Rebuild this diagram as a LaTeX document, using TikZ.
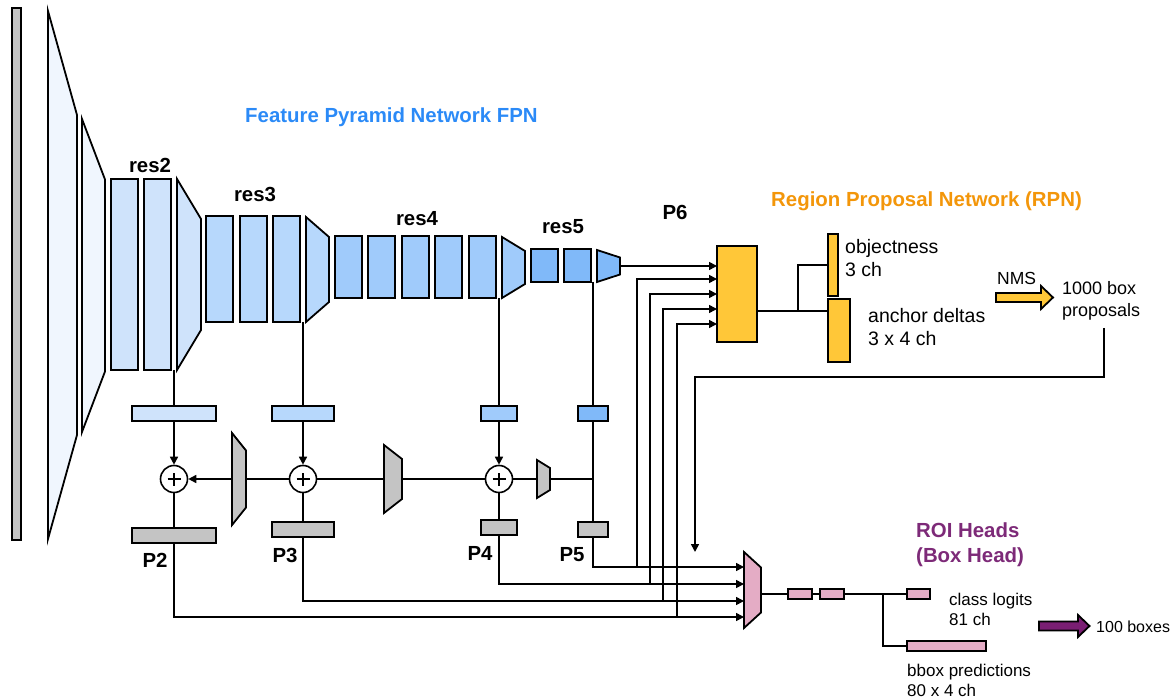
\documentclass[tikz,border=0pt]{standalone}
\usepackage{fontspec}
\setmainfont{Liberation Sans}
\usetikzlibrary{arrows.meta}
\definecolor{cstem}{RGB}{240,246,254}
\definecolor{cr2}{RGB}{207,227,251}
\definecolor{cr3}{RGB}{183,216,252}
\definecolor{cr4}{RGB}{160,203,251}
\definecolor{cr5}{RGB}{128,185,249}
\definecolor{cgray}{RGB}{196,196,196}
\definecolor{cyel}{RGB}{255,199,56}
\definecolor{cpink}{RGB}{228,172,197}
\definecolor{cpur}{RGB}{122,30,115}
\definecolor{tblue}{RGB}{43,138,247}
\definecolor{torange}{RGB}{243,150,10}
\definecolor{tpurple}{RGB}{125,42,120}
\tikzset{
  shp/.style={draw=black, line width=1.8pt},
  blk/.style={shp, rectangle, inner sep=0pt, outer sep=0pt},
  con/.style={draw=black, line width=1.6pt},
  arr/.style={con, -{Triangle[length=8pt,width=8pt]}},
  bl/.style={font=\fontsize{20.4}{24}\selectfont\bfseries, inner sep=0pt, anchor=base},
  lbl/.style={font=\fontsize{19.5}{22}\selectfont, inner sep=0pt, anchor=base west},
  slbl/.style={font=\fontsize{17}{20}\selectfont, inner sep=0pt, anchor=base west},
  plusnode/.style={circle, draw=black, line width=1.6pt, minimum size=27pt, inner sep=0pt, fill=white,
    path picture={\draw[line width=1.2pt] ([xshift=-6.5pt]path picture bounding box.center) -- ([xshift=6.5pt]path picture bounding box.center);
                  \draw[line width=1.2pt] ([yshift=-6.5pt]path picture bounding box.center) -- ([yshift=6.5pt]path picture bounding box.center);}}
}
% rectangle node from corners: name, x1, y1, x2, y2, fill
\newcommand\myrect[6]{%
  \pgfmathsetmacro\rbw{#4-#2}\pgfmathsetmacro\rbh{#5-#3}%
  \pgfmathsetmacro\rbx{(#2+#4)/2}\pgfmathsetmacro\rby{(#3+#5)/2}%
  \node[blk,fill=#6,minimum width=\rbw pt,minimum height=\rbh pt] (#1) at (\rbx,\rby) {};}
% trapezoid: name, x1, x2, yc, half-height left, half-height right, fill
\newcommand\mytrap[7]{%
  \filldraw[shp,fill=#7] (#2,{#4-#5}) -- (#3,{#4-#6}) -- (#3,{#4+#6}) -- (#2,{#4+#5}) -- cycle;
  \coordinate (#1-w) at (#2,#4); \coordinate (#1-e) at (#3,#4);}
\begin{document}
\begin{tikzpicture}[x=1pt,y=-1pt]
\useasboundingbox (0,0) rectangle (1175,700);

% ---------------- backbone ----------------
\myrect{img}{12}{8}{21}{540}{cgray}
\mytrap{stemA}{48}{77}{275}{264}{160}{cstem}
\mytrap{stemB}{82}{105}{275.5}{156.5}{96}{cstem}
% res2
\myrect{r2a}{111}{179}{138}{370}{cr2}
\myrect{r2b}{144}{179}{171}{370}{cr2}
\mytrap{r2t}{177}{201}{274.5}{95.5}{55.5}{cr2}
% res3
\myrect{r3a}{206}{216}{233}{322}{cr3}
\myrect{r3b}{240}{216}{267}{322}{cr3}
\myrect{r3c}{273}{216}{300}{322}{cr3}
\mytrap{r3t}{306}{329}{269.5}{52.5}{32.5}{cr3}
% res4
\myrect{r4a}{335}{236}{362}{298}{cr4}
\myrect{r4b}{368}{236}{395}{298}{cr4}
\myrect{r4c}{402}{236}{429}{298}{cr4}
\myrect{r4d}{435}{236}{462}{298}{cr4}
\myrect{r4e}{469}{236}{496}{298}{cr4}
\mytrap{r4t}{502}{525}{267.5}{30.5}{16.5}{cr4}
% res5
\myrect{r5a}{531}{249}{558}{282}{cr5}
\myrect{r5b}{564}{249}{591}{282}{cr5}
\mytrap{r5t}{597}{620}{266}{16}{8.5}{cr5}

\node[bl] (lres2) at (150,173) {res2};
\node[bl] (lres3) at (255,202) {res3};
\node[bl] (lres4) at (417,226) {res4};
\node[bl] (lres5) at (563,234) {res5};

\node[bl, text=tblue, anchor=base west] (tfpn) at (245,123) {Feature Pyramid Network FPN};

% ---------------- FPN ----------------
\coordinate (t2) at (174,370);
\coordinate (t3) at (303,322);
\coordinate (t4) at (499,298);
\coordinate (t5) at (593,282);

\myrect{l2}{132}{406}{216}{421}{cr2}
\myrect{l3}{272}{406}{334}{421}{cr3}
\myrect{l4}{481}{406}{517}{421}{cr4}
\myrect{l5}{578}{406}{608}{421}{cr5}

\node[plusnode] (s2) at (174,479) {};
\node[plusnode] (s3) at (303,479) {};
\node[plusnode] (s4) at (499,479) {};

\mytrap{u2}{232}{246}{479}{46}{28.5}{cgray}
\mytrap{u3}{384}{402}{479}{34}{20}{cgray}
\mytrap{u4}{537}{550}{479}{19}{11}{cgray}

\myrect{o2}{132}{528}{216}{543}{cgray}
\myrect{o3}{272}{522}{334}{537}{cgray}
\myrect{o4}{481}{520}{517}{535}{cgray}
\myrect{o5}{578}{522}{608}{537}{cgray}

\draw[con] (t2) -- (l2.north);
\draw[con] (t3) -- (l3.north);
\draw[con] (t4) -- (l4.north);
\draw[con] (t5) -- (l5.north);
\draw[arr] (l2.south) -- (s2.north);
\draw[arr] (l3.south) -- (s3.north);
\draw[arr] (l4.south) -- (s4.north);
\draw[con] (l5.south) -- (o5.north);
\draw[con] (s2.south) -- (o2.north);
\draw[con] (s3.south) -- (o3.north);
\draw[con] (s4.south) -- (o4.north);

\coordinate (j5) at (593,479);
\draw[con] (j5) -- (u4-e);
\draw[con] (u4-w) -- (s4.east);
\draw[con] (s4.west) -- (u3-e);
\draw[con] (u3-w) -- (s3.east);
\draw[con] (s3.west) -- (u2-e);
\draw[arr] (u2-w) -- (s2.east);

\node[bl] (lp2) at (155,567) {P2};
\node[bl] (lp3) at (285,562) {P3};
\node[bl] (lp4) at (480,560) {P4};
\node[bl] (lp5) at (572,561) {P5};
\node[bl] (lp6) at (675,220) {P6};

% ---------------- RPN ----------------
\node[bl, text=torange, anchor=base east] (trpn) at (1082,207) {Region Proposal Network (RPN)};
\myrect{rpn}{717}{246}{757}{342}{cyel}
\myrect{obj}{828}{234}{838}{296}{cyel}
\myrect{anc}{828}{299}{850}{362}{cyel}

\coordinate (b5) at (637,567);
\coordinate (b4) at (650,584);
\coordinate (b3) at (663,601);
\coordinate (b2) at (677,617);
\coordinate (e5) at (717,279);
\coordinate (e4) at (717,294);
\coordinate (e3) at (717,309);
\coordinate (e2) at (717,324);
\draw[arr] (r5t-e) -- (rpn.west |- r5t-e);
\draw[arr] (b5) |- (e5);
\draw[arr] (b4) |- (e4);
\draw[arr] (b3) |- (e3);
\draw[arr] (b2) |- (e2);

\coordinate (rb) at (798,311);
\coordinate (ob) at (828,265);
\draw[con] (rpn.east |- rb) -- (anc.west |- rb);
\draw[con] (rb) |- (ob);

\node[lbl] (tobj1) at (845,254) {objectness};
\node[lbl] (tobj2) at (845,277) {3 ch};
\node[lbl] (tanc1) at (868,323) {anchor deltas};
\node[lbl] (tanc2) at (868,346) {3 x 4 ch};

\filldraw[shp, fill=cyel] (996,293) -- (1041,293) -- (1041,286) -- (1053,297.5) -- (1041,309) -- (1041,302) -- (996,302) -- cycle;
\node[font=\fontsize{17.5}{20}\selectfont, inner sep=0pt, anchor=base west] (tnms) at (997,285) {NMS};
\node[font=\fontsize{18}{22}\selectfont, inner sep=0pt, anchor=base west] (tprop1) at (1062,294.5) {1000 box};
\node[font=\fontsize{18}{22}\selectfont, inner sep=0pt, anchor=base west] (tprop2) at (1062,316.5) {proposals};

\coordinate (pr0) at (1104,328);
\coordinate (prc) at (695,377);
\coordinate (prend) at (695,552);
\draw[arr] (pr0) |- (prc) -- (prend);

% ---------------- ROI heads ----------------
\mytrap{roi}{744}{761}{590}{38}{22.5}{cpink}
\coordinate (a5) at (744,567);
\coordinate (a4) at (744,584);
\coordinate (a3) at (744,601);
\coordinate (a2) at (744,617);
\draw[arr] (o5.south) |- (a5);
\draw[arr] (o4.south) |- (a4);
\draw[arr] (o3.south) |- (a3);
\draw[arr] (o2.south) |- (a2);

\myrect{fc1}{788}{589}{812}{599}{cpink}
\myrect{fc2}{820}{589}{844}{599}{cpink}
\myrect{cls}{907}{589}{930}{599}{cpink}
\myrect{bbx}{907}{641}{986}{651}{cpink}
\coordinate (roiout) at (761,594);
\coordinate (hb) at (883,594);
\draw[con] (roiout) -- (fc1.west);
\draw[con] (fc1.east) -- (fc2.west);
\draw[con] (fc2.east) -- (cls.west);
\draw[con] (hb) |- (bbx.west);

\node[bl, text=tpurple, anchor=base west] (troi1) at (916,537) {ROI Heads};
\node[bl, text=tpurple, anchor=base west] (troi2) at (916,562) {(Box Head)};

\node[slbl] (tcls1) at (949,605) {class logits};
\node[slbl] (tcls2) at (949,625) {81 ch};
\node[slbl] (tbb1) at (907,676) {bbox predictions};
\node[slbl] (tbb2) at (907,696) {80 x 4 ch};

\filldraw[shp, fill=cpur] (1039,621.5) -- (1078,621.5) -- (1078,615) -- (1089.5,626) -- (1078,637) -- (1078,630.5) -- (1039,630.5) -- cycle;
\node[font=\fontsize{16}{20}\selectfont, inner sep=0pt, anchor=base west] (tout) at (1096,632) {100 boxes};
\end{tikzpicture}
\end{document}
